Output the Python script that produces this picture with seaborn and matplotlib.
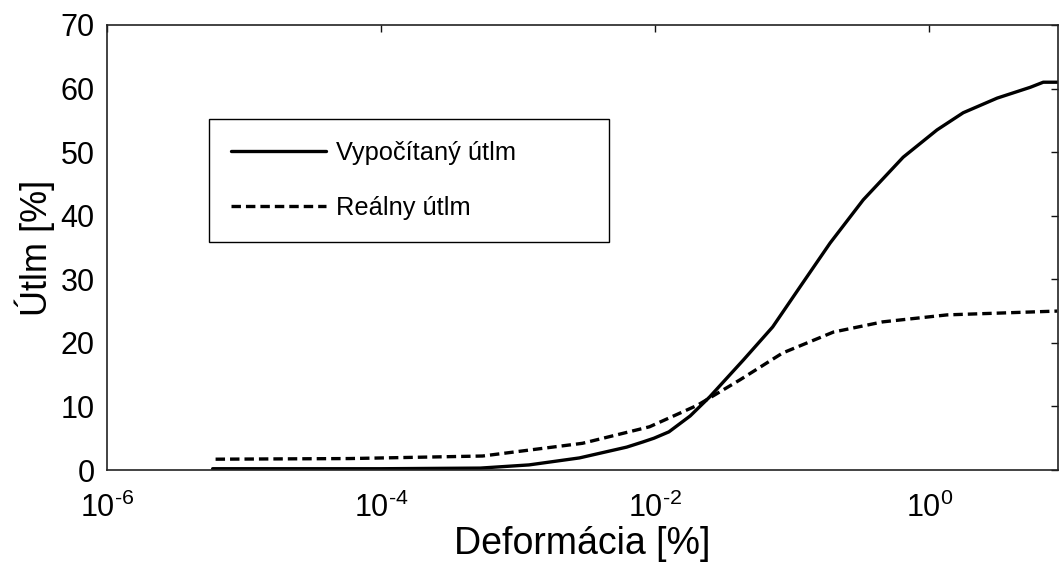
import numpy as np
import pandas as pd
import matplotlib
matplotlib.use("Agg")
import matplotlib.pyplot as plt
import seaborn as sns
from matplotlib.ticker import FixedLocator, NullLocator, FuncFormatter

# Computed damping vs strain
strain_calc = [5.9e-6, 1e-5, 1e-4, 5.3e-4, 1.2e-3, 2.8e-3, 6.2e-3, 8.1e-3, 9.8e-3,
               1.26e-2, 1.8e-2, 2.5e-2, 4.4e-2, 7.2e-2, 0.114, 0.189, 0.33,
               0.645, 1.14, 1.77, 3.13, 5.46, 6.79, 8.6]
damping_calc = [0.2, 0.2, 0.2, 0.3, 0.8, 1.9, 3.6, 4.4, 5.0,
                6.0, 8.5, 11.5, 17.3, 22.5, 28.8, 35.7, 42.5,
                49.2, 53.5, 56.2, 58.5, 60.2, 61.0, 61.0]

# Measured damping vs strain
strain_real = [6.2e-6, 5.9e-5, 5.5e-4, 2.95e-3, 9.1e-3, 2.04e-2, 4.17e-2,
               8.5e-2, 0.2, 0.457, 1.35, 8.6]
damping_real = [1.7, 1.8, 2.2, 4.2, 6.8, 10.2, 14.2,
                18.4, 21.7, 23.3, 24.4, 25.0]

x_ticks = [1e-6, 1e-4, 1e-2, 1e0]
y_ticks = [0, 10, 20, 30, 40, 50, 60, 70]

label_calc = "Vypočítaný útlm"
label_real = "Reálny útlm"

sns.set_style("white")
plt.rcParams["font.family"] = ["Liberation Sans", "DejaVu Sans"]
plt.rcParams["mathtext.fontset"] = "custom"
plt.rcParams["mathtext.rm"] = "Liberation Sans"
plt.rcParams["lines.scale_dashes"] = False
plt.rcParams["text.color"] = "black"
plt.rcParams["axes.labelcolor"] = "black"
plt.rcParams["xtick.color"] = "black"
plt.rcParams["ytick.color"] = "black"

W, H, DPI = 1059, 565, 100
fig = plt.figure(figsize=(W / DPI, H / DPI), dpi=DPI)
ax = fig.add_axes([107 / W, (H - 470) / H, (1058 - 107) / W, (470 - 25) / H])

df_calc = pd.DataFrame({"x": strain_calc, "y": damping_calc})
df_real = pd.DataFrame({"x": strain_real, "y": damping_real})

sns.lineplot(data=df_calc, x="x", y="y", ax=ax, color="black", lw=2.4,
             label=label_calc, sort=False)
sns.lineplot(data=df_real, x="x", y="y", ax=ax, color="black", lw=2.4,
             linestyle=(0, (6.8, 3.6)), label=label_real, sort=False)

ax.set_xscale("log")
ax.set_xlim(1e-6, 8.7)
ax.set_ylim(0, 70)
ax.xaxis.set_major_locator(FixedLocator(x_ticks))
ax.xaxis.set_minor_locator(NullLocator())


def pow10(v, pos):
    e = int(round(np.log10(v)))
    return r"$\mathdefault{10^{\text{%d}}}$" % e


ax.xaxis.set_major_formatter(FuncFormatter(pow10))
ax.set_yticks(y_ticks)

ax.tick_params(axis="both", which="major", direction="in", length=5, width=1,
               color="#111111", top=True, right=True, labelsize=22)
ax.tick_params(axis="x", pad=16)
ax.tick_params(axis="y", pad=9)

for side in ["left", "bottom", "top", "right"]:
    ax.spines[side].set_visible(True)
    ax.spines[side].set_color("#222222")
    ax.spines[side].set_linewidth(1.2)

ax.set_xlabel("Deformácia [%]", fontsize=27, labelpad=2)
ax.set_ylabel("Útlm [%]", fontsize=26, labelpad=4)

leg = ax.legend(loc="upper left",
                bbox_to_anchor=(0.107, 0.789, 0.421, 0.0), mode="expand",
                fontsize=18.3, frameon=True, fancybox=False, framealpha=1,
                edgecolor="black", handlelength=3.75, handletextpad=0.4,
                borderpad=0.87, labelspacing=1.22, borderaxespad=0)
leg.get_frame().set_linewidth(1.0)

fig.savefig("out.png", dpi=DPI)
